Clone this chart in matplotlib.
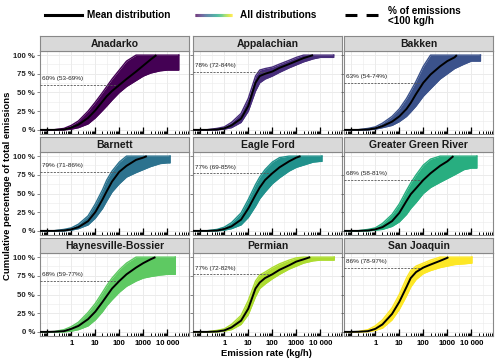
import numpy as np
import matplotlib
matplotlib.use("Agg")
import matplotlib.pyplot as plt
from matplotlib.collections import LineCollection
from matplotlib.lines import Line2D
from matplotlib.ticker import FixedLocator, FuncFormatter, NullFormatter

plt.rcParams['font.family'] = ['Liberation Sans', 'DejaVu Sans']

# ---------------- data ----------------
basins = ["Anadarko", "Appalachian", "Bakken", "Barnett", "Eagle Ford",
          "Greater Green River", "Haynesville-Bossier", "Permian", "San Joaquin"]
pct_under_100 = [60, 78, 63, 79, 77, 68, 68, 77, 86]
pct_labels = ["60% (53-69%)", "78% (72-84%)", "63% (54-74%)", "79% (71-86%)",
              "77% (69-85%)", "68% (58-81%)", "68% (59-77%)", "77% (72-82%)",
              "86% (78-97%)"]

x_grid = [0.05, 0.1, 0.2, 0.5, 1, 2, 5, 10, 20, 30, 50, 100, 200, 500, 1000,
          2000, 5000, 10000]
nan = np.nan

mean_anadarko = [0, 0, 0, 0.5, 3, 7, 16, 26, 38, 45, 52, 60, 68, 78, 86, 94, nan, nan]
mean_appalachian = [0, 0, 0, 0.5, 2, 6, 15, 32, 63, 72, 75, 78, 83, 88, 92, 96, nan, nan]
mean_bakken = [0, 0, 0, 0.5, 2, 5, 11, 18, 28, 36, 48, 63, 74, 85, 92, 97, nan, nan]
mean_barnett = [0, 0, 0, 0.5, 2, 5, 13, 25, 42, 53, 66, 79, 87, 95, 98, nan, nan, nan]
mean_eagleford = [0, 0, 0, 0.5, 2.5, 6, 15, 30, 48, 58, 68, 77, 85, 93, 98, nan, nan, nan]
mean_ggr = [0, 0, 0, 0.5, 2, 5, 13, 24, 40, 49, 57, 68, 77, 87, 93, nan, nan, nan]
mean_haynesville = [0, 0, 0.2, 1, 4, 8, 17, 27, 40, 48, 58, 68, 77, 86, 92, 97, nan, nan]
mean_permian = [0, 0, 0, 0.5, 2, 6, 15, 31, 58, 66, 72, 77, 83, 89, 94, 97, nan, nan]
mean_sanjoaquin = [0, 0, 0.2, 1, 4, 10, 24, 40, 60, 72, 80, 86, 90, 95, 99, nan, nan, nan]
mean_top_x = [3500, 5000, 2500, 1400, 1500, 1800, 3200, 3800, 1100]

upper_anadarko = [0, 0, 0.3, 2, 6, 12, 25, 37, 50, 58, 68, 80, 92, 100, 100, 100, 100, 100]
upper_appalachian = [0, 0, 0.3, 2, 4, 10, 22, 42, 72, 80, 82, 84, 88, 93, 97, 100, 100, 100]
upper_bakken = [0, 0, 0.3, 2, 4, 9, 18, 28, 42, 52, 65, 85, 100, 100, 100, 100, 100, 100]
upper_barnett = [0, 0, 0.3, 2, 4, 9, 20, 36, 55, 68, 80, 92, 100, 100, 100, 100, 100, 100]
upper_eagleford = [0, 0, 0.3, 2, 5, 11, 24, 42, 62, 72, 82, 92, 98, 100, 100, 100, 100, 100]
upper_ggr = [0, 0, 0.3, 2, 4, 10, 22, 36, 54, 64, 75, 88, 96, 100, 100, 100, 100, 100]
upper_haynesville = [0, 0, 0.5, 3, 7, 13, 26, 38, 53, 62, 72, 83, 92, 100, 100, 100, 100, 100]
upper_permian = [0, 0, 0.3, 2, 4, 10, 22, 42, 68, 76, 80, 86, 91, 96, 99, 100, 100, 100]
upper_sanjoaquin = [0, 0, 0.5, 3, 8, 16, 32, 50, 72, 82, 88, 92, 96, 100, 100, 100, 100, 100]

lower_anadarko = [0, 0, 0, 0, 1, 3, 8, 16, 26, 32, 40, 50, 58, 66, 72, 76, 79, 80]
lower_appalachian = [0, 0, 0, 0, 1, 3, 10, 25, 52, 63, 68, 72, 77, 83, 87, 91, 95, 97]
lower_bakken = [0, 0, 0, 0, 1, 3, 6, 11, 18, 24, 32, 45, 55, 68, 75, 82, 88, 92]
lower_barnett = [0, 0, 0, 0, 1, 3, 8, 17, 30, 40, 52, 63, 72, 78, 82, 86, 90, 91]
lower_eagleford = [0, 0, 0, 0, 1, 3, 8, 18, 33, 43, 52, 63, 71, 80, 85, 88, 92, 93]
lower_ggr = [0, 0, 0, 0, 1, 2, 6, 12, 22, 30, 38, 50, 58, 65, 70, 75, 82, 84]
lower_haynesville = [0, 0, 0, 0, 1, 3, 8, 16, 27, 35, 43, 53, 61, 68, 72, 74, 76, 77]
lower_permian = [0, 0, 0, 0, 1, 3, 10, 23, 47, 58, 64, 71, 77, 84, 88, 92, 95, 96]
lower_sanjoaquin = [0, 0, 0, 0.3, 2, 5, 16, 30, 48, 60, 70, 78, 82, 86, 88, 90, 91, 92]
band_right_x = [30000, 36000, 24000, 13000, 11700, 17000, 21500, 38000, 10600]

means = [mean_anadarko, mean_appalachian, mean_bakken, mean_barnett, mean_eagleford,
         mean_ggr, mean_haynesville, mean_permian, mean_sanjoaquin]
uppers = [upper_anadarko, upper_appalachian, upper_bakken, upper_barnett, upper_eagleford,
          upper_ggr, upper_haynesville, upper_permian, upper_sanjoaquin]
lowers = [lower_anadarko, lower_appalachian, lower_bakken, lower_barnett, lower_eagleford,
          lower_ggr, lower_haynesville, lower_permian, lower_sanjoaquin]

x_tick_vals = [1, 10, 100, 1000, 10000]
x_tick_labels = ["1", "10", "100", "1000", "10 000"]
y_tick_vals = [0, 25, 50, 75, 100]
y_tick_labels = ["0 %", "25 %", "50 %", "75 %", "100 %"]

# ---------------- layout ----------------
W, H = 500, 363
fig = plt.figure(figsize=(W / 100, H / 100), dpi=100)

col_left = [40, 193, 344]
panel_w = 149
row_top = [51, 152, 253]
panel_h = 83
strip_h = 15

def fx(px):
    return px / W

def fy(py):
    return 1 - py / H

cmap = plt.get_cmap("viridis")
grid_c = "#ebebeb"

for i, name in enumerate(basins):
    r, c = divmod(i, 3)
    L, T = col_left[c], row_top[r]
    ax = fig.add_axes([fx(L), fy(T + panel_h), panel_w / W, panel_h / H])
    ax.set_xscale("log")
    ax.set_xlim(0.05, 8e4)
    ax.set_ylim(-5.5, 105.5)
    ax.set_facecolor("white")

    # grid
    for d in range(-1, 5):
        ax.axvline(10.0 ** d, color=grid_c, lw=0.7, zorder=0)
        ax.axvline(10.0 ** (d + 0.5), color=grid_c, lw=0.4, zorder=0)
    ax.axvline(10.0 ** -1.5, color=grid_c, lw=0.4, zorder=0)
    for yv in y_tick_vals:
        ax.axhline(yv, color=grid_c, lw=0.7, zorder=0)
    for yv in [12.5, 37.5, 62.5, 87.5]:
        ax.axhline(yv, color=grid_c, lw=0.4, zorder=0)

    col = cmap(i / 8)
    xg = list(x_grid) + [band_right_x[i], band_right_x[i]]
    lo = list(lowers[i]) + [lowers[i][-1], 100]
    up = list(uppers[i]) + [100, 100]
    ax.fill_between(xg, lo, up, color=col, lw=0, zorder=2)
    ax.plot(xg, lo, color=col, lw=1.0, zorder=2)
    ax.plot(xg, up, color=col, lw=1.0, zorder=2)

    mx = [x for x, y in zip(x_grid, means[i]) if not np.isnan(y)] + [mean_top_x[i]]
    my = [y for y in means[i] if not np.isnan(y)] + [100]
    ax.plot(mx, my, color="black", lw=1.4, zorder=4, solid_capstyle="butt")

    # dashed reference
    ax.plot([0.05, 100], [pct_under_100[i], pct_under_100[i]], color="#555555",
            lw=0.6, ls=(0, (2.5, 1.5)), zorder=3)
    ax.text(0.062, pct_under_100[i] + 5, pct_labels[i], fontsize=4.6,
            color="#222222", va="bottom", ha="left", zorder=5)

    # ticks
    ax.xaxis.set_major_locator(FixedLocator([0.1, 1, 10, 100, 1000, 10000]))
    minors = [m * 10.0 ** d for d in range(-2, 5) for m in range(2, 10)]
    ax.xaxis.set_minor_locator(FixedLocator([v for v in minors if 0.05 < v < 8e4]))
    ax.xaxis.set_minor_formatter(NullFormatter())
    ax.tick_params(axis="x", which="major", direction="in", length=5, width=0.9,
                   color="black", pad=3, labelsize=5.6)
    ax.tick_params(axis="x", which="minor", direction="in", length=2.2, width=0.7,
                   color="black")
    ax.tick_params(axis="y", which="major", direction="out", length=2, width=0.5,
                   color="#555555", pad=1.5, labelsize=5.6)
    ax.set_yticks(y_tick_vals)
    if r == 2:
        lab = dict(zip(x_tick_vals, x_tick_labels))
        ax.xaxis.set_major_formatter(FuncFormatter(
            lambda v, p, lab=lab: lab.get(int(round(v)), "") if v >= 1 else ""))
        for t in ax.get_xticklabels():
            t.set_fontweight("bold")
    else:
        ax.set_xticklabels([])
    if c == 0:
        ax.set_yticklabels(y_tick_labels, fontweight="bold", color="#222222")
    else:
        ax.set_yticklabels([])
    for s in ax.spines.values():
        s.set_color("#888888")
        s.set_linewidth(0.8)

    # strip
    sax = fig.add_axes([fx(L), fy(T), panel_w / W, strip_h / H])
    sax.set_facecolor("#d9d9d9")
    sax.set_xticks([])
    sax.set_yticks([])
    for s in sax.spines.values():
        s.set_color("#888888")
        s.set_linewidth(0.8)
    sax.text(0.5, 0.45, name, ha="center", va="center", fontsize=7.5,
             fontweight="bold", color="#1a1a1a", transform=sax.transAxes)

# axis titles
fig.text(fx(8), fy(186), "Cumulative percentage of total emissions", rotation=90,
         ha="center", va="center", fontsize=6.8, fontweight="bold")
fig.text(fx(266), fy(353), "Emission rate (kg/h)", ha="center", va="center",
         fontsize=6.8, fontweight="bold")

# legend
ly = fy(15)
fig.add_artist(Line2D([fx(45), fx(82)], [ly, ly], color="black", lw=2.2,
                      transform=fig.transFigure))
fig.text(fx(87), ly, "Mean distribution", ha="left", va="center", fontsize=7.2,
         fontweight="bold")
gx = np.linspace(fx(195), fx(232), 40)
segs = [[(gx[k], ly), (gx[k + 1], ly)] for k in range(len(gx) - 1)]
lc = LineCollection(segs, colors=[cmap(k / (len(segs) - 1)) for k in range(len(segs))],
                    linewidths=2.2, transform=fig.transFigure)
fig.add_artist(lc)
fig.text(fx(240), ly, "All distributions", ha="left", va="center", fontsize=7.2,
         fontweight="bold")
fig.add_artist(Line2D([fx(345), fx(378)], [ly, ly], color="black", lw=2.2,
                      ls=(0, (3.9, 3.0)), transform=fig.transFigure))
fig.text(fx(388), fy(16), "% of emissions\n<100 kg/h", ha="left", va="center",
         fontsize=7.2, fontweight="bold", linespacing=1.1)

fig.savefig("out.png", dpi=100, facecolor="white")
